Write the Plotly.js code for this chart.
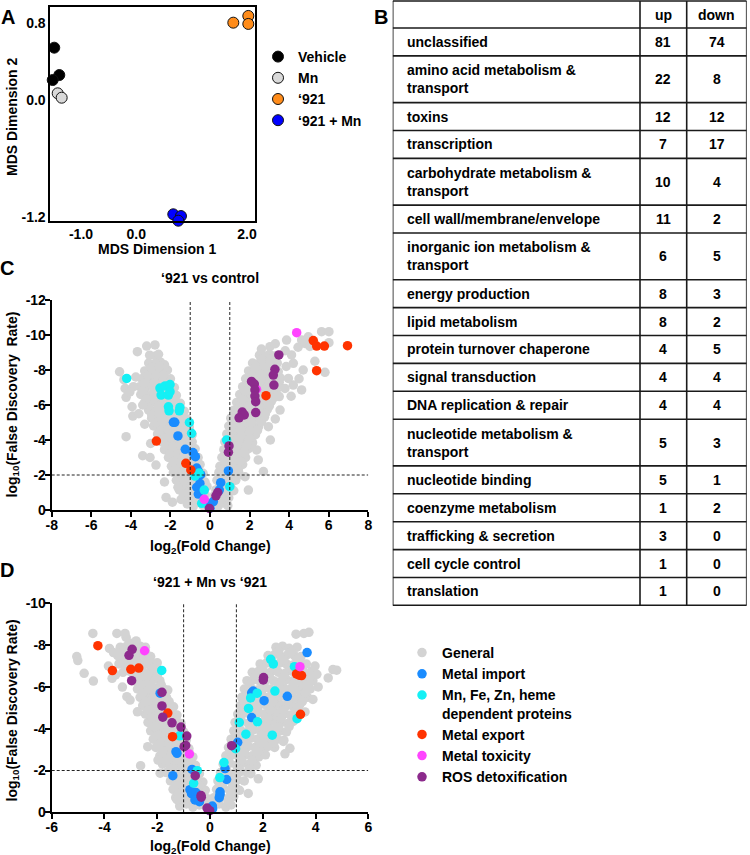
<!DOCTYPE html>
<html><head><meta charset="utf-8">
<script src="https://cdn.plot.ly/plotly-3.0.1.min.js"></script>
<style>html,body{margin:0;padding:0;background:#fff}#chart{width:750px;height:855px}</style>
</head><body><div id="chart"></div>
<script>
// ---------- Panel A: MDS ----------
const vehicleX = [-1.483, -1.392, -1.511];
const vehicleY = [0.543, 0.262, 0.211];
const mnX = [-1.573, -1.421, -1.349];
const mnY = [0.296, 0.074, 0.029];
const c921X = [1.753, 2.024, 2.024];
const c921Y = [0.800, 0.869, 0.787];
const c921MnX = [0.668, 0.807, 0.759];
const c921MnY = [-1.169, -1.187, -1.235];
const mdsXTicks = [-1, 0, 2];
const mdsXTickText = ['-1.0', '0.0', '2.0'];
const mdsYTicks = [0.8, 0, -1.2];
const mdsYTickText = ['0.8', '0.0', '-1.2'];

// ---------- Panel B: table ----------
const tableHeader = ['', 'up', 'down'];
const categories = ['unclassified', 'amino acid metabolism &<br>transport', 'toxins', 'transcription',
  'carbohydrate metabolism &<br>transport', 'cell wall/membrane/envelope', 'inorganic ion metabolism &<br>transport',
  'energy production', 'lipid metabolism', 'protein turnover chaperone', 'signal transduction',
  'DNA replication & repair', 'nucleotide metabolism &<br>transport', 'nucleotide binding',
  'coenzyme metabolism', 'trafficking & secretion', 'cell cycle control', 'translation'];
const upCounts = [81, 22, 12, 7, 10, 11, 6, 8, 8, 4, 4, 4, 5, 5, 1, 3, 1, 1];
const downCounts = [74, 8, 12, 17, 4, 2, 5, 3, 2, 5, 4, 4, 3, 1, 2, 0, 0, 0];

// ---------- Panel C: '921 vs control (log2 FC, log10 FDR) ----------
const cGeneral = [
[-1.15,-0.35],[-0.85,-0.2],[-0.6,-0.45],[-0.35,-0.25],[-0.1,-0.4],
[-1.35,-0.8],[-1.05,-0.7],[-0.8,-0.85],[-0.5,-0.7],[-0.25,-0.9],
[-1.55,-1.15],[-1.25,-1.3],[-0.95,-1.2],[-0.65,-1.3],[-0.35,-1.15],[-0.15,-1.35],
[-1.7,-1.7],[-1.4,-1.6],[-1.1,-1.75],[-0.8,-1.6],[-0.5,-1.7],[-0.25,-1.6],
[-1.85,-2.15],[-1.55,-2.05],[-1.25,-2.2],[-0.95,-2.05],[-0.65,-2.15],[-0.35,-2.1],
[-1.95,-2.5],[-1.7,-2.6],[-1.4,-2.5],[-1.1,-2.6],[-0.8,-2.5],[-0.5,-2.6],
[-2.1,-3.0],[-1.8,-2.95],[-1.5,-3.05],[-1.2,-2.95],[-0.9,-3.05],[-0.6,-3.0],
[-2.3,-3.45],[-2.0,-3.5],[-1.7,-3.4],[-1.4,-3.5],[-1.1,-3.4],[-0.75,-3.5],
[-2.45,-3.9],[-2.15,-3.85],[-1.85,-3.95],[-1.55,-3.85],[-1.25,-3.95],[-0.9,-3.9],
[-2.65,-4.35],[-2.35,-4.3],[-2.05,-4.4],[-1.75,-4.3],[-1.45,-4.4],[-1.15,-4.35],[-0.9,-4.3],
[-2.85,-4.8],[-2.55,-4.75],[-2.25,-4.85],[-1.95,-4.75],[-1.65,-4.85],[-1.35,-4.8],[-1.05,-4.75],
[-2.95,-5.25],[-2.65,-5.2],[-2.35,-5.3],[-2.05,-5.2],[-1.75,-5.3],[-1.45,-5.25],[-1.15,-5.2],
[-3.1,-5.7],[-2.8,-5.65],[-2.5,-5.75],[-2.2,-5.65],[-1.9,-5.75],[-1.6,-5.7],[-1.3,-5.65],
[-3.3,-6.15],[-3.0,-6.1],[-2.7,-6.2],[-2.4,-6.1],[-2.1,-6.2],[-1.8,-6.15],[-1.5,-6.1],
[-3.5,-6.6],[-3.2,-6.55],[-2.9,-6.65],[-2.6,-6.55],[-2.3,-6.65],[-2.0,-6.6],[-1.7,-6.55],
[-3.55,-7.05],[-3.25,-7.0],[-2.95,-7.1],[-2.65,-7.0],[-2.35,-7.1],[-2.05,-7.05],[-1.8,-7.0],
[-3.45,-7.5],[-3.15,-7.45],[-2.85,-7.55],[-2.55,-7.45],[-2.25,-7.55],[-2.0,-7.5],
[-3.3,-7.95],[-3.0,-7.9],[-2.7,-8.0],[-2.4,-7.9],[-2.15,-8.0],
[-3.1,-8.4],[-2.8,-8.35],[-2.5,-8.45],[-2.3,-8.3],
[-3.05,-8.85],[-2.75,-8.8],[-2.6,-8.9],
[-3.2,-9.37],[-3.67,-9.05],[-2.78,-9.43],
[-1.0,-0.5],[-0.7,-0.6],[-1.2,-1.0],[-0.8,-1.0],[-0.45,-0.95],[-1.4,-1.4],[-0.95,-1.45],[-0.6,-1.5],
[-1.6,-1.9],[-1.25,-1.85],[-0.75,-1.85],[-1.75,-2.35],[-1.25,-2.4],[-0.95,-2.35],[-0.6,-2.35],
[-1.85,-2.75],[-1.5,-2.8],[-1.0,-2.8],[-0.7,-2.75],[-2.0,-3.25],[-1.65,-3.2],[-1.3,-3.25],[-0.95,-3.2],
[-2.2,-3.7],[-1.85,-3.65],[-1.5,-3.7],[-1.0,-3.65],[-2.3,-4.1],[-2.0,-4.15],[-1.6,-4.1],[-1.1,-4.15],
[-2.5,-4.55],[-2.15,-4.6],[-1.8,-4.55],[-1.3,-4.6],[-2.7,-5.0],[-2.4,-5.05],[-1.9,-5.0],[-1.5,-5.05],
[-2.95,-5.45],[-2.6,-5.5],[-2.0,-5.45],[-1.6,-5.5],[-3.15,-5.9],[-2.6,-5.95],[-2.2,-5.9],[-1.7,-5.95],
[-3.2,-6.35],[-2.8,-6.4],[-2.2,-6.4],[-1.9,-6.35],[-3.4,-6.8],[-2.8,-6.85],[-2.5,-6.8],[-2.1,-6.85],
[-3.3,-7.25],[-2.8,-7.3],[-2.4,-7.25],[-3.15,-7.7],[-2.7,-7.75],[-2.35,-7.7],[-2.95,-8.15],[-2.55,-8.2],
[-4.57,-7.9],[-4.35,-7.45],[-4.29,-6.95],[-4.24,-6.44],[-3.87,-7.05],[-4.05,-6.75],[-3.94,-5.9],[-3.9,-5.37],
[-3.4,-6.0],[-4.24,-4.19],[-3.4,-3.1],[-3.03,-3.0],[-2.73,-2.57],[-2.22,-0.72],[-1.62,-1.3],[-1.46,-0.6],
[-3.6,-5.5],[-3.3,-4.9],[-3.0,-3.8],[-2.3,-1.6],[-1.9,-0.45],[-3.75,-7.6],
[0.15,-0.35],[0.4,-0.2],[0.65,-0.4],[0.9,-0.25],
[0.2,-0.8],[0.45,-0.7],[0.7,-0.85],[0.95,-0.7],
[0.3,-1.15],[0.55,-1.3],[0.8,-1.2],[1.05,-1.3],[1.2,-1.1],
[0.35,-1.7],[0.6,-1.6],[0.85,-1.75],[1.1,-1.6],[1.3,-1.7],
[0.45,-2.15],[0.7,-2.05],[0.95,-2.2],[1.2,-2.05],[1.45,-2.15],
[0.5,-2.5],[0.75,-2.6],[1.0,-2.5],[1.25,-2.6],[1.5,-2.5],[1.65,-2.6],
[0.6,-3.0],[0.85,-2.95],[1.1,-3.05],[1.35,-2.95],[1.6,-3.05],[1.8,-3.0],
[0.7,-3.45],[0.95,-3.5],[1.2,-3.4],[1.45,-3.5],[1.7,-3.4],[1.95,-3.5],
[0.75,-3.9],[1.0,-3.85],[1.25,-3.95],[1.5,-3.85],[1.75,-3.95],[2.0,-3.9],[2.15,-3.85],
[0.85,-4.35],[1.1,-4.3],[1.35,-4.4],[1.6,-4.3],[1.85,-4.4],[2.1,-4.35],[2.3,-4.3],
[0.95,-4.8],[1.2,-4.75],[1.45,-4.85],[1.7,-4.75],[1.95,-4.85],[2.2,-4.8],[2.45,-4.75],
[1.05,-5.25],[1.3,-5.2],[1.55,-5.3],[1.8,-5.2],[2.05,-5.3],[2.3,-5.25],[2.55,-5.2],[2.75,-5.3],
[1.2,-5.7],[1.45,-5.65],[1.7,-5.75],[1.95,-5.65],[2.2,-5.75],[2.45,-5.7],[2.7,-5.65],[2.9,-5.75],
[1.35,-6.15],[1.6,-6.1],[1.85,-6.2],[2.1,-6.1],[2.35,-6.2],[2.6,-6.15],[2.85,-6.1],[3.1,-6.2],
[1.5,-6.6],[1.75,-6.55],[2.0,-6.65],[2.25,-6.55],[2.5,-6.65],[2.75,-6.6],[3.0,-6.55],[3.25,-6.65],
[1.65,-7.05],[1.9,-7.0],[2.15,-7.1],[2.4,-7.0],[2.65,-7.1],[2.9,-7.05],[3.15,-7.0],[3.4,-7.1],
[1.8,-7.5],[2.05,-7.45],[2.3,-7.55],[2.55,-7.45],[2.8,-7.55],[3.05,-7.5],[3.3,-7.45],[3.55,-7.55],
[1.95,-7.95],[2.2,-7.9],[2.45,-8.0],[2.7,-7.9],[2.95,-8.0],[3.2,-7.95],[3.45,-7.9],
[2.15,-8.4],[2.4,-8.35],[2.65,-8.45],[2.9,-8.35],[3.15,-8.45],[3.4,-8.4],
[2.5,-8.85],[2.75,-8.8],[3.0,-8.9],[3.25,-8.8],
[2.6,-9.2],[3.03,-9.33],[3.3,-9.5],
[0.3,-0.55],[0.6,-0.6],[0.45,-1.0],[0.9,-1.0],[0.5,-1.45],[0.95,-1.45],[0.6,-1.9],[1.0,-1.9],[1.35,-1.9],
[0.65,-2.35],[1.1,-2.35],[1.4,-2.35],[0.75,-2.8],[1.2,-2.8],[1.55,-2.8],[0.85,-3.25],[1.3,-3.2],[1.75,-3.25],
[0.9,-3.7],[1.35,-3.65],[1.85,-3.7],[1.0,-4.1],[1.5,-4.15],[2.0,-4.1],[1.1,-4.55],[1.55,-4.6],[2.05,-4.55],[2.4,-4.55],
[1.2,-5.0],[1.65,-5.05],[2.1,-5.0],[2.6,-5.05],[1.35,-5.45],[1.85,-5.5],[2.35,-5.45],[2.8,-5.5],
[1.5,-5.9],[2.0,-5.95],[2.5,-5.9],[3.0,-5.95],[1.65,-6.35],[2.2,-6.4],[2.7,-6.35],[3.2,-6.4],
[1.8,-6.8],[2.35,-6.85],[2.85,-6.8],[3.35,-6.85],[1.95,-7.25],[2.5,-7.3],[3.0,-7.25],[3.5,-7.3],
[2.1,-7.7],[2.6,-7.75],[3.1,-7.7],[2.3,-8.15],[2.8,-8.2],[3.3,-8.15],[2.6,-8.6],[3.05,-8.6],
[1.94,-1.14],[1.77,-1.9],[2.44,-2.86],[2.36,-3.43],[2.95,-4.76],[3.54,-5.71],[3.5,-6.48],[3.79,-6.95],
[4.21,-7.14],[4.63,-6.86],[3.96,-7.52],[4.71,-8.0],[4.21,-8.38],[3.87,-9.71],[4.12,-8.86],[4.63,-9.71],
[4.8,-9.52],[4.97,-9.9],[5.64,-10.19],[6.01,-10.19],[6.01,-9.56],[5.3,-8.5],[5.81,-7.87],[3.8,-9.1],
[4.45,-9.3],[5.05,-9.35],[4.1,-6.5],[3.05,-4.0],[2.7,-2.2],[3.3,-5.2],[3.85,-8.2],[4.5,-7.5]
];
const cImport = [[-1.85,-5.01],[-1.78,-5.01],[-1.62,-4.23],[-1.25,-3.47],[-0.86,-3.28],[-0.74,-3.05],[-0.67,-2.4],
[-0.59,-2.21],[-0.47,-2.02],[-0.67,-1.3],[-0.56,-1.26],[-0.59,-0.91],[-0.51,-1.52],[-0.17,-0.38],[0.0,-0.1],
[0.17,-0.48],[0.54,-1.56],[0.47,-1.14],[0.93,-2.23]];
const cMetalDep = [[-4.21,-7.52],[-2.53,-6.97],[-2.27,-7.09],[-2.02,-7.17],[-2.47,-6.57],[-2.1,-6.57],[-2.02,-6.76],
[-2.1,-5.9],[-2.07,-5.67],[-1.52,-5.86],[-1.55,-5.67],[-1.04,-5.0],[-0.93,-4.38],[-0.55,-2.11],[-0.76,-1.94],
[-0.29,-1.14],[-0.42,-0.38],[0.84,-4.0],[1.0,-1.33]];
const cExport = [[-2.71,-3.94],[-1.22,-2.67],[-0.97,-2.29],[2.83,-6.53],[5.22,-9.68],[5.39,-9.37],[5.78,-9.37],
[6.95,-9.39],[5.39,-7.96]];
const cToxicity = [[-0.29,-0.61],[4.38,-10.13],[2.35,-6.9]];
const cROS = [[3.48,-8.86],[3.28,-8.04],[3.2,-7.71],[3.23,-7.14],[2.1,-7.35],[2.24,-7.2],[2.27,-6.86],[2.27,-6.51],
[2.31,-6.19],[2.31,-5.57],[1.63,-5.6],[1.73,-5.43],[1.47,-5.27],[0.96,-3.66],[0.93,-3.3],[0.39,-1.0],[0.3,-0.81],
[-0.03,-0.09]];

// ---------- Panel D: '921 + Mn vs '921 ----------
const dGeneral = [
[-1.15,-0.3],[-0.9,-0.4],[-0.65,-0.25],[-0.4,-0.35],[-0.15,-0.3],
[-1.3,-0.7],[-1.05,-0.75],[-0.8,-0.65],[-0.55,-0.75],[-0.3,-0.7],[-0.1,-0.65],
[-1.4,-1.1],[-1.15,-1.15],[-0.9,-1.05],[-0.65,-1.15],[-0.4,-1.1],[-0.18,-1.05],
[-1.5,-1.5],[-1.25,-1.55],[-1.0,-1.45],[-0.75,-1.55],[-0.5,-1.5],[-0.27,-1.45],
[-1.65,-1.9],[-1.4,-1.95],[-1.15,-1.85],[-0.9,-1.95],[-0.65,-1.9],[-0.4,-1.85],
[-1.8,-2.3],[-1.55,-2.35],[-1.3,-2.25],[-1.05,-2.35],[-0.8,-2.3],[-0.55,-2.25],
[-1.9,-2.7],[-1.65,-2.75],[-1.4,-2.65],[-1.15,-2.75],[-0.9,-2.7],[-0.65,-2.65],
[-2.05,-3.1],[-1.8,-3.15],[-1.55,-3.05],[-1.3,-3.15],[-1.05,-3.1],[-0.8,-3.05],
[-2.15,-3.5],[-1.9,-3.55],[-1.65,-3.45],[-1.4,-3.55],[-1.15,-3.5],[-0.9,-3.45],
[-2.25,-3.9],[-2.0,-3.95],[-1.75,-3.85],[-1.5,-3.95],[-1.25,-3.9],[-1.0,-3.85],
[-2.35,-4.3],[-2.1,-4.35],[-1.85,-4.25],[-1.6,-4.35],[-1.35,-4.3],[-1.1,-4.25],
[-2.45,-4.7],[-2.2,-4.75],[-1.95,-4.65],[-1.7,-4.75],[-1.45,-4.7],[-1.25,-4.65],
[-2.55,-5.1],[-2.3,-5.15],[-2.05,-5.05],[-1.8,-5.15],[-1.55,-5.1],[-1.38,-5.05],
[-2.65,-5.5],[-2.4,-5.55],[-2.15,-5.45],[-1.9,-5.55],[-1.65,-5.5],
[-2.75,-5.9],[-2.5,-5.95],[-2.25,-5.85],[-2.0,-5.95],[-1.75,-5.9],[-1.6,-5.85],
[-2.9,-6.3],[-2.65,-6.35],[-2.4,-6.25],[-2.15,-6.35],[-1.9,-6.3],
[-3.3,-6.7],[-3.05,-6.75],[-2.8,-6.65],[-2.55,-6.75],[-2.3,-6.7],[-2.05,-6.65],[-1.9,-6.75],
[-3.45,-7.1],[-3.2,-7.15],[-2.95,-7.05],[-2.7,-7.15],[-2.45,-7.1],[-2.2,-7.05],[-2.0,-7.15],
[-3.5,-7.5],[-3.25,-7.55],[-3.0,-7.45],[-2.75,-7.55],[-2.5,-7.5],[-2.25,-7.45],
[-3.4,-7.9],[-3.15,-7.95],[-2.9,-7.85],[-2.65,-7.95],[-2.45,-7.9],
[-3.18,-8.37],[-3.05,-8.1],[-2.8,-8.2],
[-1.0,-0.5],[-0.5,-0.5],[-1.2,-0.9],[-0.7,-0.9],[-0.3,-0.9],[-1.3,-1.3],[-0.85,-1.3],[-0.4,-1.3],
[-1.4,-1.7],[-0.95,-1.7],[-0.55,-1.7],[-1.5,-2.1],[-1.05,-2.1],[-0.6,-2.1],[-1.65,-2.5],[-1.2,-2.5],[-0.75,-2.5],
[-1.8,-2.9],[-1.3,-2.9],[-0.8,-2.9],[-1.9,-3.3],[-1.4,-3.3],[-0.95,-3.3],[-2.0,-3.7],[-1.5,-3.7],[-1.05,-3.7],
[-2.1,-4.1],[-1.6,-4.1],[-1.2,-4.1],[-2.2,-4.5],[-1.7,-4.5],[-1.3,-4.5],[-2.35,-4.9],[-1.85,-4.9],[-1.45,-4.9],
[-2.45,-5.3],[-2.0,-5.3],[-1.55,-5.3],[-2.55,-5.7],[-2.1,-5.7],[-1.75,-5.7],[-2.7,-6.1],[-2.25,-6.1],[-1.85,-6.1],
[-2.85,-6.5],[-2.4,-6.5],[-2.0,-6.5],[-3.2,-6.9],[-2.6,-6.9],[-2.15,-6.9],[-3.3,-7.3],[-2.8,-7.3],[-2.3,-7.3],
[-3.3,-7.7],[-2.9,-7.7],[-2.45,-7.7],
[-4.44,-8.56],[-3.53,-8.56],[-3.22,-8.56],[-3.81,-7.84],[-3.66,-7.64],[-5.05,-7.45],[-5.01,-7.26],[-4.77,-6.65],
[-4.42,-6.28],[-3.71,-6.41],[-3.58,-6.57],[-3.32,-5.99],[-3.15,-5.53],[-3.03,-5.37],[-2.75,-4.81],[-2.36,-3.14],
[-2.63,-2.23],[-1.97,-2.5],[-1.89,-1.87],[-1.25,-0.6],[-3.85,-7.0],
[0.1,-0.3],[0.35,-0.4],[0.6,-0.25],[0.8,-0.35],
[0.15,-0.7],[0.4,-0.75],[0.65,-0.65],[0.9,-0.75],
[0.25,-1.1],[0.5,-1.15],[0.75,-1.05],[1.0,-1.15],[1.12,-1.05],
[0.3,-1.5],[0.55,-1.55],[0.8,-1.45],[1.05,-1.55],[1.3,-1.5],
[0.4,-1.9],[0.65,-1.95],[0.9,-1.85],[1.15,-1.95],[1.4,-1.9],[1.55,-1.85],
[0.5,-2.3],[0.75,-2.35],[1.0,-2.25],[1.25,-2.35],[1.5,-2.3],[1.75,-2.25],
[0.6,-2.7],[0.85,-2.75],[1.1,-2.65],[1.35,-2.75],[1.6,-2.7],[1.85,-2.65],[2.1,-2.75],
[0.7,-3.1],[0.95,-3.15],[1.2,-3.05],[1.45,-3.15],[1.7,-3.1],[1.95,-3.05],[2.2,-3.15],[2.45,-3.1],
[0.8,-3.5],[1.05,-3.55],[1.3,-3.45],[1.55,-3.55],[1.8,-3.5],[2.05,-3.45],[2.3,-3.55],[2.55,-3.5],[2.8,-3.45],
[0.9,-3.9],[1.15,-3.95],[1.4,-3.85],[1.65,-3.95],[1.9,-3.9],[2.15,-3.85],[2.4,-3.95],[2.65,-3.9],[2.9,-3.85],
[0.95,-4.3],[1.2,-4.35],[1.45,-4.25],[1.7,-4.35],[1.95,-4.3],[2.2,-4.25],[2.45,-4.35],[2.7,-4.3],[2.95,-4.25],[3.15,-4.35],
[1.05,-4.7],[1.3,-4.75],[1.55,-4.65],[1.8,-4.75],[2.05,-4.7],[2.3,-4.65],[2.55,-4.75],[2.8,-4.7],[3.05,-4.65],[3.3,-4.75],
[1.15,-5.1],[1.4,-5.15],[1.65,-5.05],[1.9,-5.15],[2.15,-5.1],[2.4,-5.05],[2.65,-5.15],[2.9,-5.1],[3.15,-5.05],[3.4,-5.15],
[1.2,-5.5],[1.45,-5.55],[1.7,-5.45],[1.95,-5.55],[2.2,-5.5],[2.45,-5.45],[2.7,-5.55],[2.95,-5.5],[3.2,-5.45],[3.45,-5.55],[3.7,-5.5],
[1.3,-5.9],[1.55,-5.95],[1.8,-5.85],[2.05,-5.95],[2.3,-5.9],[2.55,-5.85],[2.8,-5.95],[3.05,-5.9],[3.3,-5.85],[3.55,-5.95],[3.8,-5.9],
[1.4,-6.3],[1.65,-6.35],[1.9,-6.25],[2.15,-6.35],[2.4,-6.3],[2.65,-6.25],[2.9,-6.35],[3.15,-6.3],[3.4,-6.25],[3.65,-6.35],[3.9,-6.3],
[1.6,-6.7],[1.85,-6.75],[2.1,-6.65],[2.35,-6.75],[2.6,-6.7],[2.85,-6.65],[3.1,-6.75],[3.35,-6.7],[3.6,-6.65],[3.85,-6.75],
[1.9,-7.1],[2.15,-7.15],[2.4,-7.05],[2.65,-7.15],[2.9,-7.1],[3.15,-7.05],[3.4,-7.15],[3.65,-7.1],
[2.2,-7.5],[2.45,-7.55],[2.7,-7.45],[2.95,-7.55],[3.2,-7.5],[3.45,-7.45],
[2.5,-7.9],[2.75,-7.95],[3.0,-7.85],[3.3,-7.9],
[0.25,-0.5],[0.7,-0.5],[0.35,-0.9],[0.8,-0.9],[0.45,-1.3],[0.9,-1.3],[0.5,-1.7],[1.0,-1.7],[0.6,-2.1],[1.1,-2.1],[1.5,-2.1],
[0.7,-2.5],[1.2,-2.5],[1.6,-2.5],[0.8,-2.9],[1.3,-2.9],[1.8,-2.9],[0.9,-3.3],[1.4,-3.3],[1.9,-3.3],[2.4,-3.3],
[1.0,-3.7],[1.5,-3.7],[2.0,-3.7],[2.5,-3.7],[1.05,-4.1],[1.6,-4.1],[2.1,-4.1],[2.6,-4.1],[3.0,-4.1],
[1.15,-4.5],[1.7,-4.5],[2.2,-4.5],[2.7,-4.5],[3.2,-4.5],[1.25,-4.9],[1.8,-4.9],[2.3,-4.9],[2.8,-4.9],[3.3,-4.9],
[1.3,-5.3],[1.85,-5.3],[2.4,-5.3],[2.95,-5.3],[3.5,-5.3],[1.4,-5.7],[1.95,-5.7],[2.5,-5.7],[3.05,-5.7],[3.6,-5.7],
[1.5,-6.1],[2.05,-6.1],[2.6,-6.1],[3.15,-6.1],[3.7,-6.1],[1.7,-6.5],[2.25,-6.5],[2.8,-6.5],[3.35,-6.5],[3.8,-6.5],
[2.0,-6.9],[2.5,-6.9],[3.0,-6.9],[3.5,-6.9],[2.3,-7.3],[2.8,-7.3],[3.3,-7.3],[2.6,-7.7],[3.1,-7.7],
[3.26,-8.52],[3.56,-8.56],[3.75,-8.61],[4.8,-6.8],[4.48,-6.43],[4.66,-6.83],[3.98,-7.0],[4.1,-6.0],
[2.84,-2.8],[3.03,-3.06],[2.78,-3.39],[1.83,-1.6],[1.45,-0.9],[3.6,-4.8],[3.9,-5.4],[4.05,-6.6]
];
const dImport = [[-1.89,-5.7],[-1.29,-2.9],[-1.25,-2.82],[-1.41,-1.75],[-0.68,-2.05],[-0.76,-1.08],[-0.66,-0.95],
[-0.7,-0.89],[-0.54,-0.95],[-0.44,-0.83],[-0.4,-0.51],[-0.57,-0.59],[-0.02,-0.09],[0.1,-0.17],[3.68,-7.64],
[1.64,-5.8],[1.58,-5.72],[2.05,-5.34],[2.93,-5.55],[1.58,-4.53],[1.05,-3.35],[0.57,-2.09],[0.63,-1.57],
[0.38,-0.98],[0.35,-0.7],[0.09,-0.3],[0.38,-0.85]];
const dMetalDep = [[-1.83,-6.79],[-1.15,-3.66],[-0.48,-1.99],[-0.62,-1.39],[2.3,-7.32],[2.4,-7.1],[3.2,-6.97],
[2.46,-5.8],[1.79,-5.7],[1.54,-5.47],[1.46,-4.97],[1.8,-4.33],[1.11,-4.3],[1.36,-3.74],[2.36,-3.69],[0.97,-3.04],
[0.53,-2.38],[0.37,-1.66],[3.3,-4.48]];
const dExport = [[-4.25,-7.97],[-3.7,-6.78],[-3.0,-6.84],[-2.7,-6.9],[-1.6,-4.75],[-1.42,-3.62],[3.28,-6.62],
[3.38,-6.56],[3.47,-6.54],[3.43,-4.69]];
const dToxicity = [[-2.48,-7.73],[-0.78,-2.79],[3.41,-6.97]];
const dROS = [[-2.95,-7.8],[-3.07,-7.51],[-2.97,-6.3],[-1.82,-5.74],[-1.82,-5.09],[-1.79,-4.55],[-1.44,-4.28],
[-1.1,-4.08],[-0.88,-3.65],[-0.92,-3.2],[-0.98,-3.14],[-0.56,-1.75],[-0.33,-0.72],[-0.34,-0.8],[-0.11,-0.2],
[-0.01,-0.08],[0.82,-3.19],[2.02,-6.33],[2.03,-6.45]];

const volcanoTicksC = [-8, -6, -4, -2, 0, 2, 4, 6, 8];
const volcanoYTicksC = [0, -2, -4, -6, -8, -10, -12];
const volcanoTicksD = [-6, -4, -2, 0, 2, 4, 6];
const volcanoYTicksD = [0, -2, -4, -6, -8, -10];

const groupNames = ['General', 'Metal import', 'Mn, Fe, Zn, heme<br>dependent proteins', 'Metal export', 'Metal toxicity', 'ROS detoxification'];

// ---------- styling / build ----------
const W = 750, H = 855;
const FONT = 'Liberation Sans, Arial, Helvetica, sans-serif';
const groupColors = ['#d3d3d3', '#1a8cff', '#14f0f5', '#ff3300', '#ff44ff', '#8c2a8c'];
const px = v => v / W;
const py = v => 1 - v / H;

const traces = [];
const mds = [
  ['Vehicle', vehicleX, vehicleY, '#000000'],
  ['Mn', mnX, mnY, '#d9d9d9'],
  ['\u2018921', c921X, c921Y, '#ff8c1a'],
  ['\u2018921 + Mn', c921MnX, c921MnY, '#0000ff']
];
mds.forEach(([name, x, y, col]) => traces.push({
  type: 'scatter', mode: 'markers', name, x, y, xaxis: 'x', yaxis: 'y', cliponaxis: false,
  marker: {size: 11, color: col, line: {color: '#111', width: 1}}, legend: 'legend'
}));

function addVolcano(groups, xa, ya, legendOn) {
  groups.forEach((pts, i) => traces.push({
    type: 'scatter', mode: 'markers', name: groupNames[i],
    x: pts.map(p => p[0]), y: pts.map(p => p[1]), xaxis: xa, yaxis: ya, cliponaxis: false,
    marker: {size: i === 0 ? 9.5 : 9.5, color: groupColors[i]},
    showlegend: legendOn, legend: 'legend2'
  }));
}
addVolcano([cGeneral, cImport, cMetalDep, cExport, cToxicity, cROS], 'x2', 'y2', false);
addVolcano([dGeneral, dImport, dMetalDep, dExport, dToxicity, dROS], 'x3', 'y3', true);

const tickFont = {family: FONT, size: 14, color: '#000', weight: 'bold'};
const volcAxis = (domain, range, ticks, anchor) => ({
  domain, range, anchor, tickvals: ticks, ticktext: ticks.map(String), ticks: 'outside', ticklen: 5,
  tickwidth: 2, tickcolor: '#000', showline: true, linewidth: 2, linecolor: '#000', showgrid: false,
  zeroline: false, tickfont: tickFont, fixedrange: true, ticklabelstandoff: -4
});

const shapes = [];
const annotations = [];
const ann = (text, x, y, opts = {}) => annotations.push(Object.assign({
  text, x: px(x), y: py(y), xref: 'paper', yref: 'paper', showarrow: false,
  xanchor: 'center', yanchor: 'middle', font: {family: FONT, size: 14, color: '#000'}
}, opts));

// dashed threshold lines
function thresholds(xa, ya, xmin, xmax, ytop) {
  const dash = {color: '#222', width: 1, dash: '3px,2px'};
  [-1, 1].forEach(v => shapes.push({type: 'line', xref: xa, yref: ya, x0: v, x1: v, y0: 0, y1: ytop, line: dash}));
  shapes.push({type: 'line', xref: xa, yref: ya, x0: xmin, x1: xmax, y0: -2, y1: -2, line: dash});
}
thresholds('x2', 'y2', -8, 8, -12);
thresholds('x3', 'y3', -6, 6, -10);

// table B (drawn on a hidden pixel-unit axis pair)
const tLeft = 392.7, tRight = 746.7, tTop = 0, tBottom = 606;
const colEdges = [0, 247.3, 294, 354];
const headerH = 27, lineH1 = 27.9, lineH2 = 46.7;
const border = {color: '#1a1a1a', width: 1.6};
let yPos = 1;
const rowEdges = [yPos];
yPos += headerH; rowEdges.push(yPos);
const rowCenters = [];
categories.forEach(c => {
  const h = c.split('<br>').length > 1 ? lineH2 : lineH1;
  rowCenters.push(yPos + h / 2);
  yPos += h; rowEdges.push(yPos);
});
rowEdges.forEach(e => shapes.push({type: 'line', xref: 'x4', yref: 'y4', x0: 0, x1: 354, y0: e, y1: e, line: border}));
colEdges.forEach(e => shapes.push({type: 'line', xref: 'x4', yref: 'y4', x0: e, x1: e, y0: rowEdges[0], y1: yPos, line: border}));
const tFont = {family: FONT, size: 14, color: '#000'};
const esc = s => s.replace(/&(?!amp;)/g, '&amp;');
const cellAnn = (text, x, y, xanchor) => annotations.push({
  text: '<b>' + text + '</b>', x, y, xref: 'x4', yref: 'y4', showarrow: false, xanchor, yanchor: 'middle',
  align: 'left', font: tFont
});
const hdrY = (rowEdges[0] + rowEdges[1]) / 2;
cellAnn(tableHeader[1], (colEdges[1] + colEdges[2]) / 2, hdrY, 'center');
cellAnn(tableHeader[2], (colEdges[2] + colEdges[3]) / 2, hdrY, 'center');
categories.forEach((c, i) => {
  cellAnn(esc(c), 12.5, rowCenters[i], 'left');
  cellAnn(String(upCounts[i]), (colEdges[1] + colEdges[2]) / 2, rowCenters[i], 'center');
  cellAnn(String(downCounts[i]), (colEdges[2] + colEdges[3]) / 2, rowCenters[i], 'center');
});

// panel letters, titles, axis titles
const big = {family: FONT, size: 20, color: '#000'};
ann('<b>A</b>', 8, 17, {font: big});
ann('<b>B</b>', 381, 17, {font: big});
ann('<b>C</b>', 7, 268, {font: big});
ann('<b>D</b>', 7, 570, {font: big});
ann('<b>\u2018921 vs control</b>', 210, 278);
ann('<b>\u2018921 + Mn vs \u2018921</b>', 210, 582);
ann('<b>MDS Dimension 2</b>', 12, 117, {textangle: -90});
ann('<b>MDS Dimension 1</b>', 157, 249);
ann('<b>log<sub>10</sub>(False Discovery\u00a0 Rate)</b>', 12.5, 405, {textangle: -90});
ann('<b>log<sub>10</sub>(False Discovery Rate)</b>', 12.5, 711, {textangle: -90});
ann('<b>log<sub>2</sub>(Fold Change)</b>', 210, 547);
ann('<b>log<sub>2</sub>(Fold Change)</b>', 210, 847);

const layout = {
  width: W, height: H, margin: {l: 0, r: 0, t: 0, b: 0}, paper_bgcolor: '#fff', plot_bgcolor: 'rgba(0,0,0,0)',
  showlegend: true, font: {family: FONT, color: '#000'},
  xaxis: {domain: [px(50), px(255)], range: [-1.56, 2.145], anchor: 'y', tickvals: mdsXTicks, ticktext: mdsXTickText,
    ticks: '', showline: true, mirror: true, linewidth: 1.6, linecolor: '#000', showgrid: false, zeroline: false,
    tickfont: tickFont, fixedrange: true},
  yaxis: {domain: [py(221), py(7)], range: [-1.238, 0.961], anchor: 'x', tickvals: mdsYTicks, ticktext: mdsYTickText,
    ticks: '', showline: true, mirror: true, linewidth: 1.6, linecolor: '#000', showgrid: false, zeroline: false,
    tickfont: tickFont, fixedrange: true},
  xaxis2: volcAxis([px(51.7), px(368.3)], [-8, 8], volcanoTicksC, 'y2'),
  yaxis2: volcAxis([py(510), py(300)], [0, -12], volcanoYTicksC, 'x2'),
  xaxis3: volcAxis([px(51.7), px(368.3)], [-6, 6], volcanoTicksD, 'y3'),
  yaxis3: volcAxis([py(812.3), py(603.3)], [0, -10], volcanoYTicksD, 'x3'),
  xaxis4: {domain: [px(tLeft), px(tRight)], range: [0, 354], anchor: 'y4', visible: false, fixedrange: true},
  yaxis4: {domain: [py(tBottom), py(tTop)], range: [tBottom - tTop, 0], anchor: 'x4', visible: false, fixedrange: true},
  legend: {x: px(258), y: py(41), xanchor: 'left', yanchor: 'top', bgcolor: 'rgba(0,0,0,0)',
    font: {family: FONT, size: 14, color: '#000', weight: 'bold'}, tracegroupgap: 0, itemclick: false},
  legend2: {x: px(402), y: py(637), xanchor: 'left', yanchor: 'top', bgcolor: 'rgba(0,0,0,0)', valign: 'top',
    font: {family: FONT, size: 14, color: '#000', weight: 'bold'}, tracegroupgap: 0, itemclick: false},
  shapes, annotations
};
Plotly.newPlot('chart', traces, layout, {staticPlot: true, displayModeBar: false});
</script></body></html>
